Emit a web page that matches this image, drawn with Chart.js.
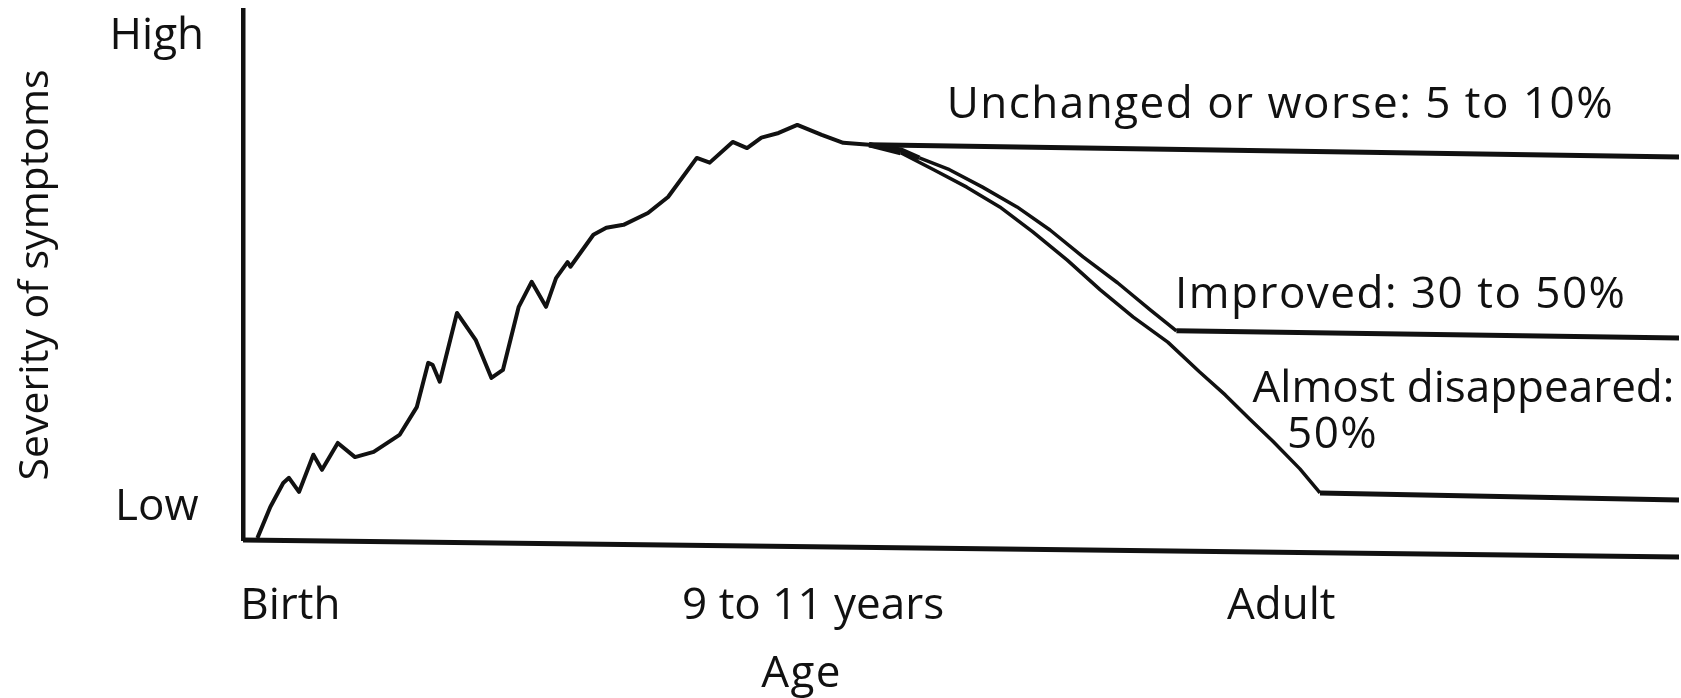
<!DOCTYPE html>
<html>
<head>
<meta charset="utf-8">
<title>Severity of symptoms by age</title>
<script src="https://cdn.jsdelivr.net/npm/chart.js@4/dist/chart.umd.min.js"></script>
<style>
  html, body { margin: 0; padding: 0; background: #fff; }
  #wrap { width: 1681px; height: 698px; }
</style>
</head>
<body>
<div id="wrap"><canvas id="chart"></canvas></div>
<script>
// axis ticks (x: age 0-100 scale, y: severity, Low = 0, High = 100)
const ageTicks = [3.3, 39.7, 72.3];
const ageLabels = ['Birth', '9 to 11 years', 'Adult'];
const severityTicks = [0, 100];
const severityLabels = ['Low', 'High'];

// childhood course, birth up to where the outcomes split
const childAge = [1.0, 1.9, 2.8, 3.2, 3.9, 4.9, 5.5, 6.6, 7.8, 9.1, 10.9, 12.1, 12.9, 13.2, 13.7,
  14.9, 16.2, 17.3, 18.1, 19.2, 20.1, 21.1, 21.8, 22.6, 22.8, 24.4, 25.3, 26.5, 28.2, 29.6,
  31.6, 32.5, 34.1, 35.1, 36.1, 37.3, 38.6, 40.3, 41.8, 43.6];
const childSeverity = [-6.4, 0.2, 5.3, 6.4, 3.4, 11.3, 8.1, 13.8, 10.8, 11.9, 15.5, 21.4, 30.8, 30.4, 26.8,
  41.4, 35.7, 27.6, 29.3, 42.7, 48.0, 42.7, 48.8, 52.2, 51.2, 58.0, 59.5, 60.1, 62.6, 66.0,
  74.3, 73.3, 77.7, 76.4, 78.6, 79.6, 81.3, 79.2, 77.5, 77.1];

// outcomes into adulthood
const unchangedAge = [43.6, 100];
const unchangedSeverity = [77.1, 74.5];

const improvedAge = [43.6, 45.8, 47.1, 49.2, 51.5, 53.9, 56.2, 58.5, 60.9, 63.2, 65.0, 100];
const improvedSeverity = [77.1, 76.0, 74.3, 71.8, 68.1, 63.9, 59.0, 53.3, 47.8, 42.0, 37.6, 36.1];

const disappearedAge = [43.6, 45.8, 48.1, 50.4, 52.7, 55.0, 57.4, 59.7, 62.0, 64.4, 66.6, 68.4, 70.1, 71.7, 73.6, 75.0, 100];
const disappearedSeverity = [77.1, 75.4, 71.8, 68.1, 63.9, 58.6, 52.6, 46.3, 40.5, 35.2, 28.9, 24.0, 18.9, 14.2, 8.3, 3.2, 1.7];

// the drawn age axis line (slightly slanted in the original)
const baselineAge = [0, 100];
const baselineSeverity = [-6.8, -10.4];

const toPoints = (xs, ys) => xs.map((x, i) => ({ x: x, y: ys[i] }));

const ink = '#111';
const fontFamily = "'Open Sans', 'Noto Sans', sans-serif";

// thicker strokes on the flat adult stretches
const flatWidth = ctx => (Math.abs(ctx.p1.parsed.y - ctx.p0.parsed.y) < 2 ? 5 : 3.5);

const lineStyle = {
  borderColor: ink,
  borderWidth: 3.5,
  pointRadius: 0,
  tension: 0,
  fill: false,
  borderJoinStyle: 'round',
  borderCapStyle: 'butt'
};

const notes = {
  id: 'notes',
  afterDatasetsDraw(chart, args, opts) {
    const { ctx, scales } = chart;
    ctx.save();
    ctx.fillStyle = opts.color;
    ctx.font = opts.font;
    ctx.textBaseline = 'alphabetic';
    opts.items.forEach(n => {
      ctx.letterSpacing = n.spacing || opts.spacing;
      ctx.textAlign = n.align || 'left';
      ctx.fillText(n.text, scales.x.getPixelForValue(n.x), scales.y.getPixelForValue(n.y));
    });
    ctx.restore();
  }
};

const data = {
  datasets: [
    { label: 'Childhood', data: toPoints(childAge, childSeverity), ...lineStyle, borderWidth: 4 },
    { label: 'Unchanged or worse: 5 to 10%', data: toPoints(unchangedAge, unchangedSeverity), ...lineStyle, borderWidth: 5 },
    { label: 'Improved: 30 to 50%', data: toPoints(improvedAge, improvedSeverity), ...lineStyle, segment: { borderWidth: flatWidth } },
    { label: 'Almost disappeared: 50%', data: toPoints(disappearedAge, disappearedSeverity), ...lineStyle, segment: { borderWidth: flatWidth } },
    { label: 'Age axis', data: toPoints(baselineAge, baselineSeverity), ...lineStyle, borderWidth: 5, clip: false }
  ]
};

const config = {
  type: 'line',
  data: data,
  options: {
    responsive: true,
    maintainAspectRatio: false,
    animation: false,
    events: [],
    layout: { padding: { top: 10, right: 2, bottom: 0, left: 0 } },
    plugins: {
      legend: { display: false },
      tooltip: { enabled: false },
      notes: {
        color: ink,
        font: '44px ' + fontFamily,
        spacing: '1.5px',
        items: [
          { text: 'Unchanged or worse: 5 to 10%', x: 49.0, y: 82.8 },
          { text: 'Improved: 30 to 50%', x: 64.9, y: 42.5 },
          { text: 'Almost disappeared:', x: 70.3, y: 22.5, spacing: '0px' },
          { text: '50%', x: 72.7, y: 12.7 },
          { text: 'Age', x: 38.9, y: -38.0, align: 'center' }
        ]
      }
    },
    scales: {
      x: {
        type: 'linear',
        min: 0,
        max: 100,
        bounds: 'data',
        grid: { display: false },
        border: { display: false },
        afterBuildTicks: s => { s.ticks = ageTicks.map(v => ({ value: v })); },
        afterFit: s => { s.height = 158; s.paddingLeft = 0; s.paddingRight = 0; },
        ticks: {
          autoSkip: false,
          maxRotation: 0,
          padding: 32,
          color: ink,
          font: { family: fontFamily, size: 44 },
          callback: (v, i) => ageLabels[i]
        }
      },
      y: {
        type: 'linear',
        min: -6.8,
        max: 105.7,
        bounds: 'data',
        grid: { display: false },
        border: { display: true, color: ink, width: 4.5 },
        afterBuildTicks: s => { s.ticks = severityTicks.map(v => ({ value: v })); },
        afterFit: s => { s.width = 243; s.paddingTop = 0; s.paddingBottom = 0; },
        ticks: {
          crossAlign: 'center',
          padding: 31,
          color: ink,
          font: { family: fontFamily, size: 44 },
          callback: (v, i) => severityLabels[i]
        },
        title: {
          display: true,
          text: 'Severity of symptoms',
          color: ink,
          font: { family: fontFamily, size: 41 },
          padding: { top: 12, bottom: 0 }
        }
      }
    }
  },
  plugins: [notes]
};

const severityChart = new Chart(document.getElementById('chart'), config);
</script>
</body>
</html>
